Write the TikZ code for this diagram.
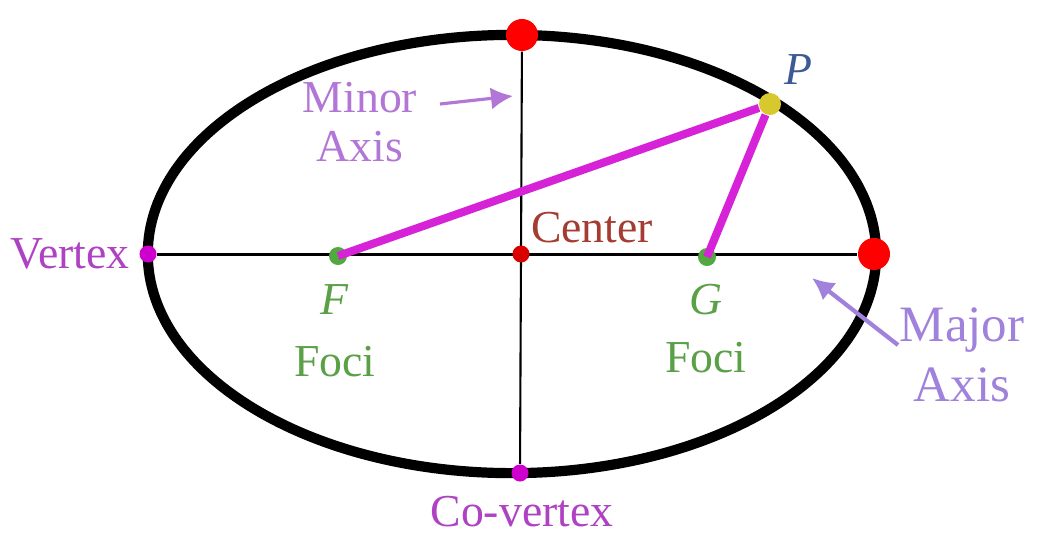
\documentclass[tikz,border=0pt]{standalone}
\usepackage{fontspec}
\setmainfont{Liberation Serif}
\usetikzlibrary{positioning, arrows.meta}
\definecolor{minorcol}{RGB}{178,118,215}
\definecolor{majorcol}{RGB}{160,130,220}
\definecolor{vertcol}{RGB}{175,65,195}
\definecolor{dotmag}{RGB}{205,0,205}
\definecolor{linemag}{RGB}{215,35,215}
\definecolor{centcol}{RGB}{165,60,50}
\definecolor{focicol}{RGB}{90,160,70}
\definecolor{pcol}{RGB}{60,90,150}
\definecolor{pdot}{RGB}{215,200,45}

\begin{document}
\begin{tikzpicture}[ x=0.01cm, y=-0.01cm, dot/.style={ circle, fill, inner sep=0pt, minimum size=0.17cm }, blob/.style={ circle, fill=red, inner sep=0pt, minimum size=0.32cm }, lbl/.style={ font=\fontsize{13}{14}\selectfont, align=center, inner sep=1pt }, pointer/.style={ -{Latex[length=2.2mm, width=2.2mm]}, line width=0.9pt } ]
\useasboundingbox (0,0) rectangle (1042,533);

% --- Ellisse e assi ---
\coordinate (O) at (512,254);
\draw[line width=2.9pt] (O) ellipse [x radius=3.64cm, y radius=2.19cm];

\node[dot, fill=dotmag] (vertexL) at (148,254) {};
\node[blob] (vertexR) at (874,254) {};
\node[blob] (covtxT) at (522,35) {};
\node[dot, fill=dotmag] (covtxB) at (520,473) {};

\draw[line width=0.85pt] (vertexL) -- (vertexR);
\draw[line width=0.6pt] (covtxT) -- (covtxB);

% --- Centro, fuochi e punto P ---
\node[dot, fill=red!85!black] (center) at (521,254) {};
\node[dot, fill=focicol!90!green, minimum size=0.18cm] (focF) at (338,256) {};
\node[dot, fill=focicol!90!green, minimum size=0.18cm] (focG) at (707,257) {};
\node[dot, fill=pdot, minimum size=0.22cm] (pntP) at (770,104) {};

\draw[linemag, line width=2.3pt] (focF.center) -- (pntP);
\draw[linemag, line width=2.3pt] (focG.center) -- (pntP);

% --- Etichette ---
\node[lbl, text=minorcol] (minorlbl) at (360,122) {Minor\\Axis};
\node[lbl, text=vertcol] (vertexlbl) at (70,254) {Vertex};
\node[lbl, text=centcol] (centerlbl) at (592,228) {Center};
\node[lbl, text=focicol] (fociF) at (335,331) {\textit{F}\\[3.5pt]Foci};
\node[lbl, text=focicol] (fociG) at (706,329) {\textit{G}\\[2.5pt]Foci};
\node[lbl, text=pcol] (plbl) at (798,70) {\textit{P}};
\node[lbl, text=majorcol, font=\fontsize{14.5}{17}\selectfont] (majorlbl) at (962,355) {Major\\Axis};
\node[lbl, text=vertcol] (covtxlbl) at (522,512) {Co-vertex};

% --- Frecce ---
\coordinate (minorTail) at (440,104);
\coordinate (minorTip) at (513,96);
\coordinate (majorTail) at (898,345);
\coordinate (majorTip) at (812,278);
\draw[pointer, minorcol] (minorTail) -- (minorTip);
\draw[pointer, majorcol, line width=1.2pt] (majorTail) -- (majorTip);
\end{tikzpicture}
\end{document}
